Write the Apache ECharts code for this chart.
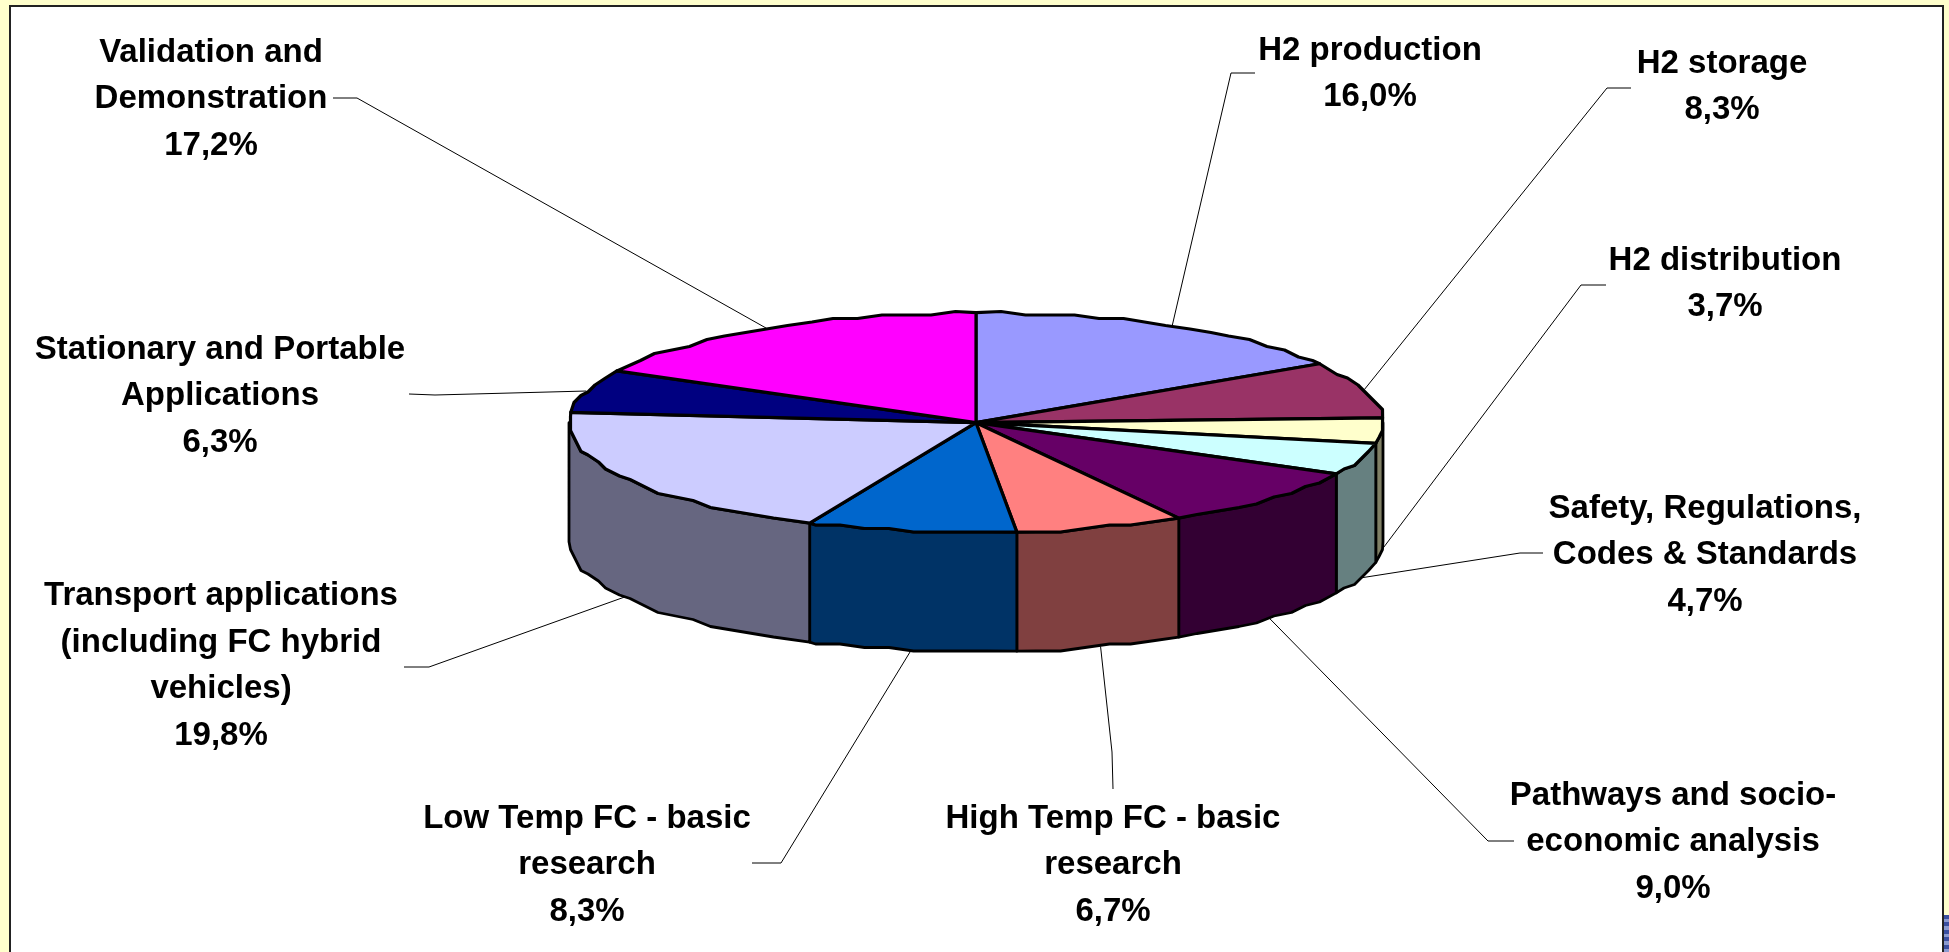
<!DOCTYPE html>
<html>
<head>
<meta charset="utf-8">
<title>Budget breakdown</title>
<script src="https://cdn.jsdelivr.net/npm/echarts@6/dist/echarts.min.js"></script>
<style>
  html, body { margin: 0; padding: 0; background: #ffffcc; }
  #chart { width: 1949px; height: 952px; }
</style>
</head>
<body>
<div id="chart"></div>
<script>
// ======================
// DATA
// ======================

const categories = [
    'H2 production',
    'H2 storage',
    'H2 distribution',
    'Safety, Regulations,\nCodes & Standards',
    'Pathways and socio-\neconomic analysis',
    'High Temp FC - basic\nresearch',
    'Low Temp FC - basic\nresearch',
    'Transport applications\n(including FC hybrid\nvehicles)',
    'Stationary and Portable\nApplications',
    'Validation and\nDemonstration'
];
const values = [16.0, 8.3, 3.7, 4.7, 9.0, 6.7, 8.3, 19.8, 6.3, 17.2];

// ======================
// STYLE / LAYOUT
// ======================

const topColors = ['#9999ff', '#993366', '#ffffcc', '#ccffff', '#660066', '#ff8080', '#0066cc', '#ccccff', '#000080', '#ff00ff'];
const sideColors = ['#4d4d80', '#4d1a33', '#808066', '#668080', '#330033', '#804040', '#003366', '#666680', '#000040', '#800080'];

const labelCenters = [
    [1370, 74], [1722, 87], [1725, 284], [1705, 555], [1673, 842],
    [1113, 865], [587, 865], [221, 666], [220, 396], [211, 99]
];
const leaderStarts = [
    [1255, 73], [1631, 88], [1606, 285], [1543, 553], [1514, 841],
    [1113, 789], [752, 863], [404, 667], [409, 394], [333, 98]
];
const leaderElbows = [
    [1231, 73], [1607, 88], [1581, 285], [1520, 553], [1488, 841],
    [1112, 752], [781, 863], [429, 667], [435, 395], [357, 98]
];

const CX = 976, CY = 422.7, RX = 407, RY = 110, DEPTH = 119;
const TOP_OUTLINE = 3.2, SIDE_OUTLINE = 2.8;
const SAMPLE_STEP = 3.5, SNAP = 3.5; // the original rim is a coarse, stepped outline
const FONT = 'bold 33px "Liberation Sans", Arial, sans-serif';

const total = values.reduce((a, b) => a + b, 0);
let running = 0;
const startAngles = values.map(v => {
    const a = running / total * 360;
    running += v;
    return a;
});
const endAngle = i => startAngles[i] + values[i] / total * 360;

// angle is clockwise from 12 o'clock
function rimPoint(angle, drop) {
    const rad = angle * Math.PI / 180;
    return [CX + RX * Math.sin(rad), CY - RY * Math.cos(rad) + (drop || 0)];
}

function snappedRim(angle, drop) {
    const p = rimPoint(angle, 0);
    return [Math.round(p[0] / SNAP) * SNAP, Math.round(p[1] / SNAP) * SNAP + (drop || 0)];
}

// ends stay exact, the samples in between sit on a fixed angle grid so neighbours share them
function arcPoints(a0, a1, drop) {
    const lo = Math.min(a0, a1), hi = Math.max(a0, a1);
    const pts = [rimPoint(lo, drop)];
    for (let k = Math.ceil(lo / SAMPLE_STEP) + 1; k * SAMPLE_STEP < hi - 1; k++) {
        pts.push(snappedRim(k * SAMPLE_STEP, drop));
    }
    pts.push(rimPoint(hi, drop));
    return a0 <= a1 ? pts : pts.reverse();
}

// ======================
// RENDER FUNCTIONS
// ======================

function renderSide(params) {
    const i = params.dataIndex;
    const a0 = Math.max(startAngles[i], 90);
    const a1 = Math.min(endAngle(i), 270);
    if (a0 >= a1) return null;
    const points = arcPoints(a0, a1, 0).concat(arcPoints(a1, a0, DEPTH));
    return {
        type: 'polygon',
        shape: { points },
        style: { fill: sideColors[i], stroke: '#000', lineWidth: SIDE_OUTLINE, lineJoin: 'round' }
    };
}

function renderTop(params) {
    const i = params.dataIndex;
    const points = [[CX, CY]].concat(arcPoints(startAngles[i], endAngle(i), 0));
    return {
        type: 'polygon',
        shape: { points },
        style: { fill: topColors[i], stroke: '#000', lineWidth: TOP_OUTLINE, lineJoin: 'round' }
    };
}

function renderLabel(params, api) {
    const i = params.dataIndex;
    const mid = (startAngles[i] + endAngle(i)) / 2;
    // front slices get their leader on the lower rim
    const onFront = mid > 90 && mid < 270;
    const text = categories[i] + '\n' + api.value(0).toFixed(1).replace('.', ',') + '%';
    return {
        type: 'group',
        children: [{
            type: 'polyline',
            shape: { points: [leaderStarts[i], leaderElbows[i], rimPoint(mid, onFront ? DEPTH : 0)] },
            style: { fill: null, stroke: '#000', lineWidth: 1 }
        }, {
            type: 'text',
            style: {
                text,
                x: labelCenters[i][0],
                y: labelCenters[i][1],
                align: 'center',
                verticalAlign: 'middle',
                font: FONT,
                lineHeight: 46.5,
                fill: '#000'
            }
        }]
    };
}

// ======================
// CHART
// ======================

const stripes = [915, 922, 930, 937, 945].map(y => ({
    type: 'rect',
    z: -9,
    shape: { x: 1944, y, width: 5, height: 4 },
    style: { fill: '#3a4fa0' },
    silent: true
}));

const chart = echarts.init(document.getElementById('chart'), null, { renderer: 'canvas' });

chart.setOption({
    animation: false,
    backgroundColor: '#ffffcc',
    graphic: [{
        type: 'rect',
        z: -10,
        shape: { x: 10, y: 6, width: 1933, height: 960 },
        style: { fill: '#fff', stroke: '#222', lineWidth: 2 },
        silent: true
    }, {
        type: 'rect',
        z: -10,
        shape: { x: 1944, y: 915, width: 5, height: 37 },
        style: { fill: '#8a9ad0' },
        silent: true
    }].concat(stripes),
    series: [
        { type: 'custom', coordinateSystem: 'none', silent: true, z: 2, renderItem: renderSide, data: values },
        { type: 'custom', coordinateSystem: 'none', silent: true, z: 3, renderItem: renderTop, data: values },
        { type: 'custom', coordinateSystem: 'none', silent: true, z: 1, renderItem: renderLabel, data: values }
    ]
});
</script>
</body>
</html>
